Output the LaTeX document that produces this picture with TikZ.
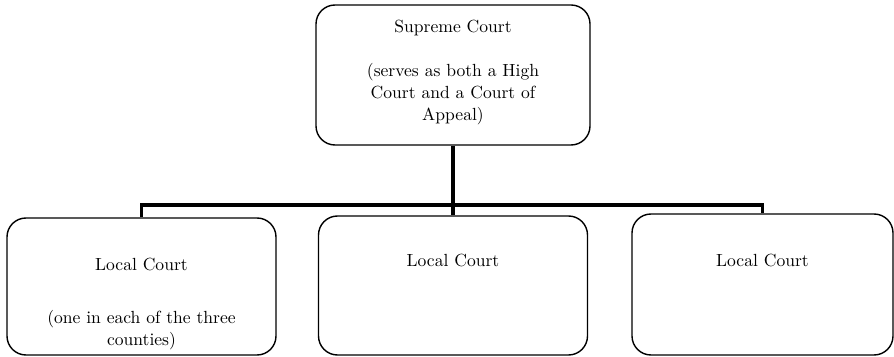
\documentclass[tikz,border=0pt]{standalone}
\usetikzlibrary{positioning}
\begin{document}
\begin{tikzpicture}[
	court/.style={draw, rounded corners=0.38cm, line width=0.8pt, inner sep=0pt},
	courttext/.style={align=center, inner sep=0pt, font=\fontsize{10}{12.5}\selectfont},
	link/.style={line width=1.8pt}
	]
	\useasboundingbox (0,0) rectangle (17.88,-7.14);
	% boxes
	\node[court, minimum width=5.48cm, minimum height=2.80cm] (supreme) at (9.06,-1.50) {};
	\node[court, minimum width=5.38cm, minimum height=2.74cm] (localA) at (2.83,-5.73) {};
	\node[court, minimum width=5.38cm, minimum height=2.78cm] (localB) at (9.06,-5.71) {};
	\node[court, minimum width=5.22cm, minimum height=2.82cm] (localC) at (15.25,-5.69) {};
	% texts
	\node[courttext, below=0.3cm of supreme.north] (supremetext) {Supreme Court\\[13pt](serves as both a High\\Court and a Court of\\Appeal)};
	\node[courttext, below=0.8cm of localA.north] (localAtext) {Local Court\\[18pt](one in each of the three\\counties)};
	\node[courttext, below=0.76cm of localB.north] (localBtext) {Local Court};
	\node[courttext, below=0.8cm of localC.north] (localCtext) {Local Court};
	% connectors
	\coordinate (bar) at (9.06,-4.10);
	\draw[link] (supreme.south) -- (localB.north);
	\draw[link] (localA.north) |- (bar) -| (localC.north);
\end{tikzpicture}
\end{document}
